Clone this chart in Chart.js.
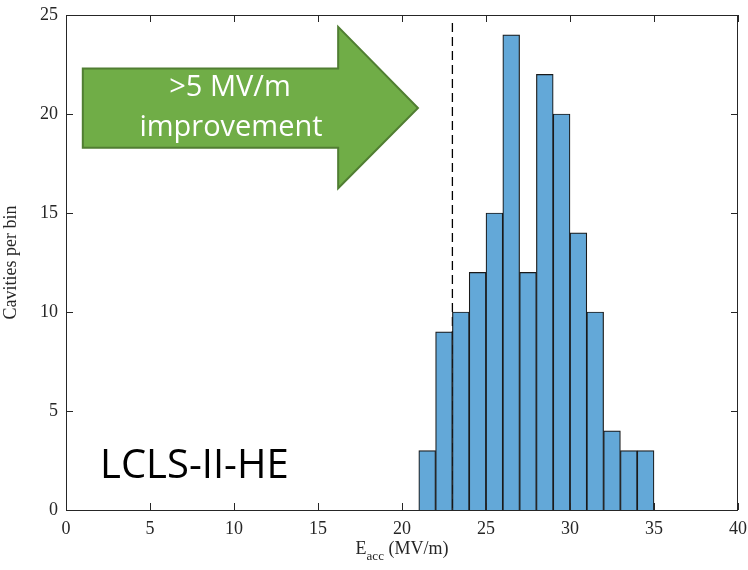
<!doctype html>
<html>
<head>
    <meta charset="UTF-8">
    <title>LCLS-II-HE cavity histogram</title>
    <style>
        body { margin: 0; background: #fff; }
        #wrap { width: 748px; height: 570px; }
    </style>
</head>
<body>
<div id="wrap"><canvas id="myCanvas"></canvas></div>
<script src="https://cdn.jsdelivr.net/npm/chart.js@4.4.1/dist/chart.umd.min.js"></script>
<script>
    // histogram bins (MV/m), 1 MV/m wide
    var binStarts = [21, 22, 23, 24, 25, 26, 27, 28, 29, 30, 31, 32, 33, 34];
    var counts    = [3, 9, 10, 12, 15, 24, 12, 22, 20, 14, 10, 4, 3, 3];
    var xTicks = [0, 5, 10, 15, 20, 25, 30, 35, 40];
    var yTicks = [0, 5, 10, 15, 20, 25];
    var specLine = 23;

    var serif = '"Liberation Serif", "Times New Roman", serif';
    var sans = '"Open Sans", "Liberation Sans", sans-serif';

    var points = binStarts.map(function(b, i){ return {x: b + 0.5, y: counts[i]}; });

    var extras = {
        id: 'extras',
        beforeDatasetsDraw: function(chart){
            var c = chart.ctx, xs = chart.scales.x, ys = chart.scales.y;
            var px = xs.getPixelForValue(specLine);
            c.save();
            c.strokeStyle = '#000';
            c.lineWidth = 1.3;
            c.setLineDash([9, 5]);
            c.beginPath();
            c.moveTo(px, ys.getPixelForValue(24.6));
            c.lineTo(px, ys.getPixelForValue(0));
            c.stroke();
            c.restore();
        },
        afterDraw: function(chart){
            var c = chart.ctx, xs = chart.scales.x, ys = chart.scales.y;
            var a = chart.chartArea;
            c.save();
            // box
            c.strokeStyle = '#262626';
            c.lineWidth = 1;
            c.strokeRect(a.left + 0.5, a.top + 0.5, a.right - a.left - 1, a.bottom - a.top);
            // inward ticks on all sides
            c.beginPath();
            xTicks.forEach(function(v){
                var p = Math.round(xs.getPixelForValue(v)) + 0.5;
                c.moveTo(p, a.bottom); c.lineTo(p, a.bottom - 7);
                c.moveTo(p, a.top); c.lineTo(p, a.top + 7);
            });
            yTicks.forEach(function(v){
                var p = Math.round(ys.getPixelForValue(v)) + 0.5;
                c.moveTo(a.left, p); c.lineTo(a.left + 7, p);
                c.moveTo(a.right, p); c.lineTo(a.right - 7, p);
            });
            c.stroke();

            // x-axis title with subscript
            c.fillStyle = '#262626';
            c.textBaseline = 'alphabetic';
            c.font = '18px ' + serif;
            var w1 = c.measureText('E').width;
            c.font = '13px ' + serif;
            var w2 = c.measureText('acc').width;
            c.font = '18px ' + serif;
            var w3 = c.measureText(' (MV/m)').width;
            var cx = (a.left + a.right) / 2;
            var x0 = cx - (w1 + w2 + w3) / 2;
            var base = 554;
            c.textAlign = 'left';
            c.fillText('E', x0, base);
            c.font = '13px ' + serif;
            c.fillText('acc', x0 + w1, base + 6);
            c.font = '18px ' + serif;
            c.fillText(' (MV/m)', x0 + w1 + w2, base);

            // green arrow
            var X = function(v){ return xs.getPixelForValue(v); };
            var Y = function(v){ return ys.getPixelForValue(v); };
            c.beginPath();
            c.moveTo(X(1.0), Y(22.3));
            c.lineTo(X(16.2), Y(22.3));
            c.lineTo(X(16.2), Y(24.4));
            c.lineTo(X(20.95), Y(20.3));
            c.lineTo(X(16.2), Y(16.25));
            c.lineTo(X(16.2), Y(18.3));
            c.lineTo(X(1.0), Y(18.3));
            c.closePath();
            c.fillStyle = '#70ad47';
            c.fill();
            c.strokeStyle = '#507e32';
            c.lineWidth = 2;
            c.stroke();

            c.fillStyle = '#ffffff';
            c.textAlign = 'center';
            c.textBaseline = 'middle';
            c.font = '29px ' + sans;
            c.fillText('>5 MV/m', 230, 88, 190);
            c.fillText('improvement', 231, 128, 204);

            // label
            c.fillStyle = '#000';
            c.textAlign = 'left';
            c.textBaseline = 'alphabetic';
            c.font = '40px ' + sans;
            c.fillText('LCLS-II-HE', 100, 478, 193);
            c.restore();
        }
    };

    var ctx = document.getElementById('myCanvas').getContext('2d');
    var myChart = new Chart(ctx, {
        type: 'bar',
        data: {
            datasets: [{
                label: 'Cavities',
                data: points,
                backgroundColor: '#63a8d8',
                borderColor: '#1a1a1a',
                borderWidth: 1.2,
                barPercentage: 1,
                categoryPercentage: 1,
                grouped: false
            }]
        },
        options: {
            responsive: true,
            maintainAspectRatio: false,
            animation: false,
            layout: { padding: { top: 15, right: 10, left: 0, bottom: 0 } },
            plugins: { legend: { display: false }, tooltip: { enabled: false } },
            scales: {
                x: {
                    type: 'linear',
                    min: 0, max: 40,
                    offset: false,
                    afterFit: function(s){ s.height = 60; s.paddingRight = 0; s.paddingLeft = 0; },
                    grid: { display: false, drawTicks: false, offset: false },
                    border: { display: false },
                    ticks: {
                        stepSize: 5,
                        padding: 8,
                        color: '#262626',
                        font: { family: serif, size: 18 }
                    }
                },
                y: {
                    min: 0, max: 25,
                    afterFit: function(s){ s.width = 66; s.paddingTop = 0; s.paddingBottom = 0; },
                    grid: { display: false, drawTicks: false },
                    border: { display: false },
                    ticks: {
                        stepSize: 5,
                        padding: 8,
                        color: '#262626',
                        font: { family: serif, size: 18 }
                    },
                    title: {
                        display: true,
                        text: 'Cavities per bin',
                        color: '#262626',
                        font: { family: serif, size: 18 },
                        padding: { top: 0, bottom: 4 }
                    }
                }
            }
        },
        plugins: [extras]
    });
</script>
</body>
</html>
